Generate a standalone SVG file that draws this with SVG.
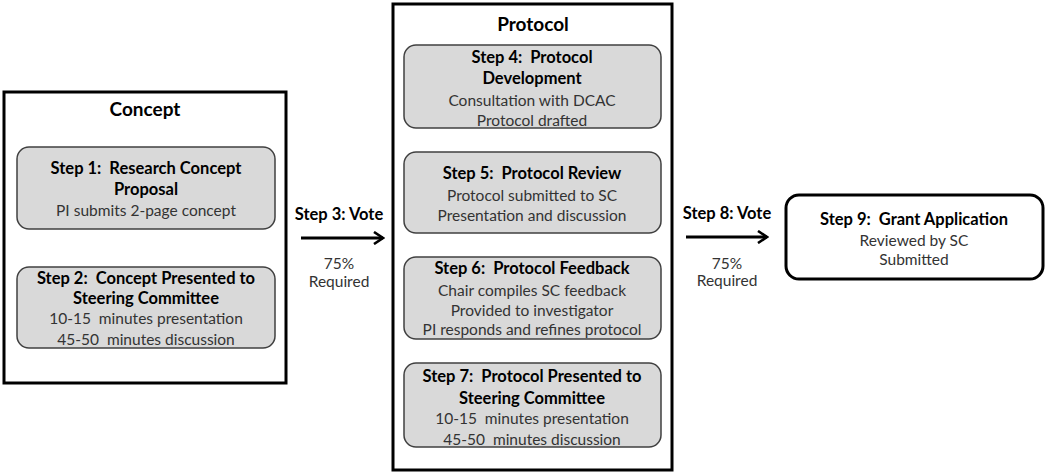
<svg xmlns="http://www.w3.org/2000/svg" width="1050" height="475" viewBox="0 0 1050 475">
<defs>
<marker id="ah" viewBox="0 0 12 14" refX="10" refY="7" markerWidth="12" markerHeight="14" markerUnits="userSpaceOnUse" orient="auto">
<path d="M1,1 L10,7 L1,13" fill="none" stroke="#000" stroke-width="2.6"/>
</marker>
<style>
.frame{fill:#fff;stroke:#000;stroke-width:3}
.step{fill:#d9d9d9;stroke:#404040;stroke-width:1.5}
.final{fill:#fff;stroke:#000;stroke-width:3}
text{font-family:Lato,"Open Sans","Liberation Sans",sans-serif;text-anchor:middle;dominant-baseline:central;white-space:pre}
.h{font-size:19px;font-weight:bold;fill:#000}
.b{font-size:16.5px;font-weight:bold;fill:#000}
.t{font-size:15.5px;fill:#333}
.conn{stroke:#000;stroke-width:3;fill:none}
</style>
</defs>
<rect width="1050" height="475" fill="#fff"/>
<g id="concept">
<rect class="frame" x="4" y="92" width="282" height="291"/>
<text class="h" x="145" y="108">Concept</text>
</g>
<g id="step1">
<rect class="step" x="17" y="147" width="258" height="82" rx="12"/>
<text class="b" x="146" y="168" xml:space="preserve">Step 1:  Research Concept</text>
<text class="b" x="146" y="189">Proposal</text>
<text class="t" x="146" y="210">PI submits 2-page concept</text>
</g>
<g id="step2">
<rect class="step" x="17" y="267" width="258" height="81" rx="12"/>
<text class="b" x="146" y="278" xml:space="preserve">Step 2:  Concept Presented to</text>
<text class="b" x="146" y="298">Steering Committee</text>
<text class="t" x="146" y="318" xml:space="preserve">10-15  minutes presentation</text>
<text class="t" x="146" y="339" xml:space="preserve">45-50  minutes discussion</text>
</g>
<g id="protocol">
<rect class="frame" x="393" y="4" width="279" height="466"/>
<text class="h" x="533" y="23">Protocol</text>
</g>
<g id="step4">
<rect class="step" x="404" y="45" width="257" height="83" rx="12"/>
<text class="b" x="532" y="57" xml:space="preserve">Step 4:  Protocol</text>
<text class="b" x="532" y="78">Development</text>
<text class="t" x="532" y="100">Consultation with DCAC</text>
<text class="t" x="532" y="120">Protocol drafted</text>
</g>
<g id="step5">
<rect class="step" x="404" y="152" width="257" height="81" rx="12"/>
<text class="b" x="532" y="173" xml:space="preserve">Step 5:  Protocol Review</text>
<text class="t" x="532" y="195">Protocol submitted to SC</text>
<text class="t" x="532" y="215">Presentation and discussion</text>
</g>
<g id="step6">
<rect class="step" x="404" y="257" width="257" height="82" rx="12"/>
<text class="b" x="532" y="268" xml:space="preserve">Step 6:  Protocol Feedback</text>
<text class="t" x="532" y="290">Chair compiles SC feedback</text>
<text class="t" x="532" y="310">Provided to investigator</text>
<text class="t" x="532" y="329">PI responds and refines protocol</text>
</g>
<g id="step7">
<rect class="step" x="404" y="363" width="257" height="84" rx="12"/>
<text class="b" x="532" y="376" xml:space="preserve">Step 7:  Protocol Presented to</text>
<text class="b" x="532" y="398">Steering Committee</text>
<text class="t" x="532" y="418" xml:space="preserve">10-15  minutes presentation</text>
<text class="t" x="532" y="439" xml:space="preserve">45-50  minutes discussion</text>
</g>
<g id="step9">
<rect class="final" x="786" y="195" width="257" height="84" rx="13"/>
<text class="b" x="914" y="219" xml:space="preserve">Step 9:  Grant Application</text>
<text class="t" x="914" y="240">Reviewed by SC</text>
<text class="t" x="914" y="259">Submitted</text>
</g>
<g id="connectors">
<line class="conn" x1="301" y1="238" x2="383" y2="238" marker-end="url(#ah)"/>
<text class="b" x="339" y="214">Step 3: Vote</text>
<text class="t" x="339" y="263">75%</text>
<text class="t" x="339" y="281">Required</text>
<line class="conn" x1="686" y1="237" x2="767" y2="237" marker-end="url(#ah)"/>
<text class="b" x="727" y="213">Step 8: Vote</text>
<text class="t" x="727" y="263">75%</text>
<text class="t" x="727" y="280">Required</text>
</g>
</svg>
